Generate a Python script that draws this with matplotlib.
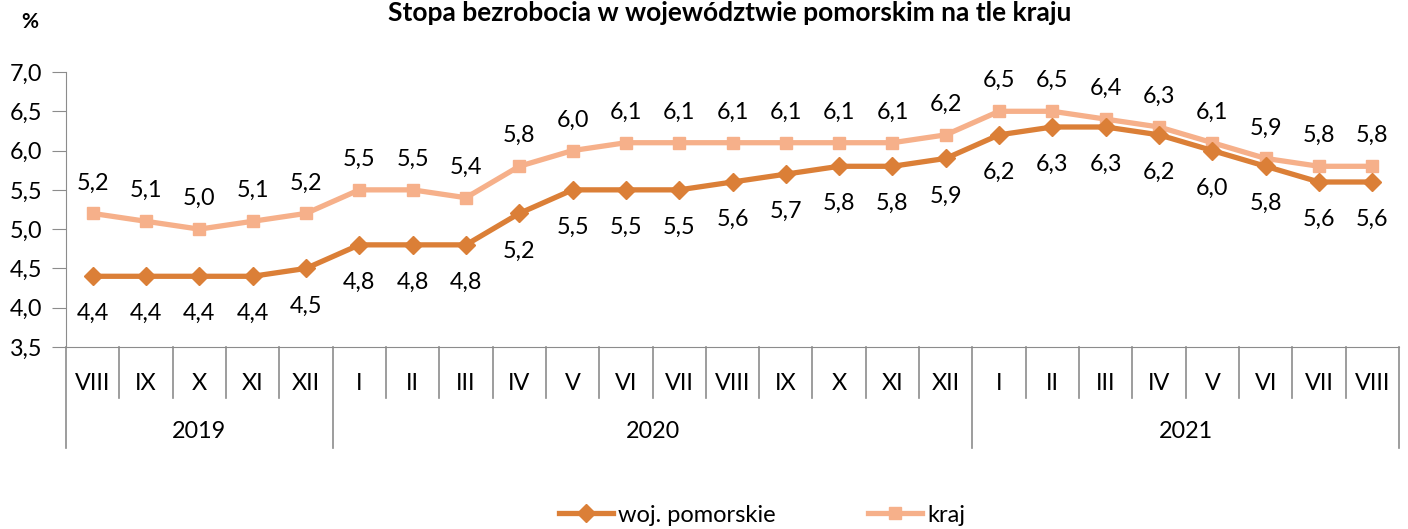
import matplotlib.pyplot as plt
from matplotlib.lines import Line2D

plt.rcParams['font.family'] = ['Lato', 'DejaVu Sans']

# Data
months = ["VIII", "IX", "X", "XI", "XII",
          "I", "II", "III", "IV", "V", "VI", "VII", "VIII", "IX", "X", "XI", "XII",
          "I", "II", "III", "IV", "V", "VI", "VII", "VIII"]
years = ["2019", "2020", "2021"]
year_counts = [5, 12, 8]
woj = [4.4, 4.4, 4.4, 4.4, 4.5, 4.8, 4.8, 4.8, 5.2, 5.5, 5.5, 5.5, 5.6, 5.7, 5.8, 5.8, 5.9,
       6.2, 6.3, 6.3, 6.2, 6.0, 5.8, 5.6, 5.6]
kraj = [5.2, 5.1, 5.0, 5.1, 5.2, 5.5, 5.5, 5.4, 5.8, 6.0, 6.1, 6.1, 6.1, 6.1, 6.1, 6.1, 6.2,
        6.5, 6.5, 6.4, 6.3, 6.1, 5.9, 5.8, 5.8]

c_woj = "#DB7F37"
c_kraj = "#F6B08A"
grey = "#8C8C8C"
fs = 16.8

fig = plt.figure(figsize=(14.08, 5.29), dpi=100)
ax = fig.add_axes([66 / 1408, 1 - 347 / 529, (1399 - 66) / 1408, 275 / 529])

x = list(range(len(months)))
ax.plot(x, kraj, color=c_kraj, lw=3.8, marker="s", ms=8, zorder=3)
ax.plot(x, woj, color=c_woj, lw=3.8, marker="D", ms=9, zorder=4)

for i in x:
    ax.annotate(f"{kraj[i]:.1f}".replace(".", ","), (i, kraj[i]), xytext=(0, 22),
                textcoords="offset points", ha="center", va="center", fontsize=fs)
    ax.annotate(f"{woj[i]:.1f}".replace(".", ","), (i, woj[i]), xytext=(0, -27),
                textcoords="offset points", ha="center", va="center", fontsize=fs)

ax.set_xlim(-0.5, len(months) - 0.5)
ax.set_ylim(3.5, 7.0)
yt = [3.5 + 0.5 * k for k in range(8)]
ax.set_yticks(yt)
ax.set_yticklabels([f"{v:.1f}".replace(".", ",") for v in yt], fontsize=fs)
ax.tick_params(axis="y", length=10, color=grey, pad=7)
ax.set_xticks([])
for s in ["top", "right"]:
    ax.spines[s].set_visible(False)
ax.spines["left"].set_color(grey)
ax.spines["bottom"].set_color(grey)

# two-level category axis
trans = ax.get_xaxis_transform()
for i, m in enumerate(months):
    ax.text(i, -0.131, m, transform=trans, ha="center", va="center", fontsize=fs)
starts = [0]
for n in year_counts:
    starts.append(starts[-1] + n)
for i in range(len(months) + 1):
    depth = -0.367 if i in starts else -0.185
    ax.plot([i - 0.5, i - 0.5], [0, depth], transform=trans, color=grey, lw=1.2, clip_on=False)
for k, yr in enumerate(years):
    mid = (starts[k] + starts[k + 1] - 1) / 2
    ax.text(mid, -0.309, yr, transform=trans, ha="center", va="center", fontsize=fs)

fig.text(730 / 1408, 1 - 1 / 529, "Stopa bezrobocia w województwie pomorskim na tle kraju",
         ha="center", va="top", fontsize=19, fontweight="bold")
fig.text(30 / 1408, 1 - 22 / 529, "%", ha="center", va="center", fontsize=15, fontweight="bold")

handles = [Line2D([], [], color=c_woj, lw=3.8, marker="D", ms=9),
           Line2D([], [], color=c_kraj, lw=3.8, marker="s", ms=8)]
fig.legend(handles, ["woj. pomorskie", "kraj"], loc="center", bbox_to_anchor=(762 / 1408, 14 / 529),
           ncol=2, frameon=False, fontsize=17, handlelength=2.3, handletextpad=0.2,
           columnspacing=3.9)

fig.savefig("out.png", dpi=100)
